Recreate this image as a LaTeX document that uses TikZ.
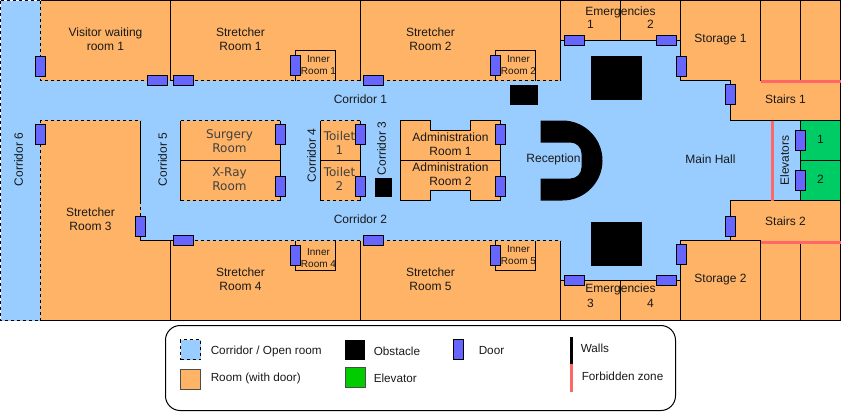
\documentclass[tikz,border=0pt]{standalone}
\usepackage{fontspec}
\setmainfont{Liberation Sans}
\newfontfamily\dvfont{DejaVu Sans}
\definecolor{corr}{HTML}{99CCFF}
\definecolor{roomc}{HTML}{FFB366}
\definecolor{doorc}{HTML}{6666FF}
\definecolor{elevc}{HTML}{00CC66}
\definecolor{legelev}{HTML}{00CC00}
\definecolor{forb}{HTML}{FF6666}
\tikzset{
  lbl/.style={inner sep=0pt,align=center,text=black!90,font=\fontsize{9}{10.5}\selectfont},
  dvlbl/.style={inner sep=0pt,align=center,text=black!75,font=\dvfont\fontsize{9}{10.5}\selectfont},
  small/.style={inner sep=0pt,align=center,text=black!90,font=\fontsize{7.5}{9}\selectfont},
  leglbl/.style={inner sep=0pt,anchor=west,text=black!90,font=\fontsize{8.8}{10}\selectfont},
  wall/.style={line width=.75pt,draw=black},
  open/.style={line width=.75pt,draw=black,dash pattern=on 2.25pt off 2.25pt},
  forbid/.style={line width=2.25pt,draw=forb},
  roomf/.style={fill=roomc},
  vdoor/.style={draw=black,line width=.75pt,fill=doorc,inner sep=0pt,outer sep=0pt,minimum width=7.5pt,minimum height=15pt,anchor=north},
  hdoor/.style={draw=black,line width=.75pt,fill=doorc,inner sep=0pt,outer sep=0pt,minimum width=15pt,minimum height=7.5pt,anchor=west},
  swatch/.style={inner sep=0pt,outer sep=0pt,minimum width=15pt,minimum height=15pt,anchor=north west},
}
\begin{document}
\begin{tikzpicture}[x=.75pt,y=-.75pt]
\useasboundingbox (-.5,-.5) rectangle (850.5,414.5);
% open space
\fill[corr] (0,0) rectangle (800,320);
% rooms
\fill[roomf] (40,0) rectangle (560,80);
\fill[roomf] (560,0) rectangle (680,40);
\fill[roomf] (680,0) rectangle (840,80);
\fill[roomf] (730,80) rectangle (840,120);
\fill[elevc] (800,120) rectangle (840,200);
\fill[roomf] (730,200) rectangle (840,240);
\fill[roomf] (680,240) rectangle (840,320);
\fill[roomf] (560,280) rectangle (680,320);
\fill[roomf] (170,240) rectangle (560,320);
\fill[roomf] (40,120) -- (140,120) -- (140,240) -- (170,240) -- (170,320) -- (40,320) -- cycle;
\fill[roomf] (180,120) rectangle (280,200);
\fill[roomf] (320,120) rectangle (360,200);
\fill[roomf] (400,120) -- (430,120) -- (430,130) -- (470,130) -- (470,120) -- (500,120) -- (500,200) -- (470,200) -- (470,190) -- (430,190) -- (430,200) -- (400,200) -- cycle;
% open (dashed) borders
\draw[open] (0,0) -- (40,0);
\draw[open] (0,0) -- (0,320) -- (40,320);
\draw[open] (40,0) -- (40,80) -- (560,80);
\draw[open] (40,320) -- (40,120) -- (140,120);
\draw[open] (140,200) -- (140,240);
\draw[open] (170,240) -- (560,240);
\draw[open] (180,120) -- (280,120);
\draw[open] (180,200) -- (280,200);
\draw[open] (320,120) -- (360,120);
\draw[open] (320,200) -- (360,200);
% walls
\draw[wall] (40,0) -- (840,0) -- (840,320) -- (40,320);
\draw[wall] (170,0) -- (170,80);
\draw[wall] (360,0) -- (360,80);
\draw[wall] (560,0) -- (560,80);
\draw[wall] (620,0) -- (620,40);
\draw[wall] (560,40) -- (680,40);
\draw[wall] (680,0) -- (680,80) -- (730,80) -- (730,120) -- (840,120);
\draw[wall] (760,0) -- (760,80);
\draw[wall] (800,0) -- (800,80);
\draw[wall] (295,80) -- (295,50) -- (335,50) -- (335,80);
\draw[wall] (495,80) -- (495,50) -- (535,50) -- (535,80);
\draw[wall] (140,120) -- (140,200);
\draw[wall] (140,236) -- (140,240) -- (170,240) -- (170,320);
\draw[wall] (360,240) -- (360,320);
\draw[wall] (560,240) -- (560,320);
\draw[wall] (295,240) -- (295,270) -- (335,270) -- (335,240);
\draw[wall] (495,240) -- (495,270) -- (535,270) -- (535,240);
\draw[wall] (180,120) -- (180,200);
\draw[wall] (280,120) -- (280,200);
\draw[wall] (180,160) -- (280,160);
\draw[wall] (320,120) -- (320,200);
\draw[wall] (360,120) -- (360,200);
\draw[wall] (320,160) -- (360,160);
\draw[wall] (400,120) -- (430,120) -- (430,130) -- (470,130) -- (470,120) -- (500,120) -- (500,200) -- (470,200) -- (470,190) -- (430,190) -- (430,200) -- (400,200) -- cycle;
\draw[wall] (400,160) -- (500,160);
\draw[wall] (560,280) -- (680,280);
\draw[wall] (620,280) -- (620,320);
\draw[wall] (680,320) -- (680,240) -- (730,240) -- (730,200) -- (840,200);
\draw[wall] (730,240) -- (760,240);
\draw[wall] (760,240) -- (760,320);
\draw[wall] (800,240) -- (800,320);
\draw[wall] (800,120) -- (800,200);
\draw[wall] (800,160) -- (840,160);
% forbidden zones
\draw[forbid] (760,80.5) -- (840,80.5);
\draw[forbid] (760,241.5) -- (840,241.5);
\draw[forbid] (772,120) -- (772,200);
% obstacles
\fill[black] (509,84) rectangle (537,104);
\fill[black] (374,177) rectangle (391,196);
\fill[black] (590,55) rectangle (641,99);
\fill[black] (590,221) rectangle (641,265);
\fill[black] (540,120) -- (562,120) .. controls (584,120) and (602,138) .. (602,160) .. controls (602,182) and (584,200) .. (562,200) -- (540,200) -- (540,178) -- (570,178) .. controls (576,178) and (581,173) .. (581,167) -- (581,153) .. controls (581,147) and (576,142) .. (570,142) -- (540,142) -- cycle;
% doors
\node[vdoor] (dv1) at (40,56) {};
\node[vdoor] (dv2) at (40,124) {};
\node[vdoor] (dv3) at (280,124) {};
\node[vdoor] (dv4) at (280,176) {};
\node[vdoor] (dv5) at (140,216) {};
\node[vdoor] (dv6) at (295,55) {};
\node[vdoor] (dv7) at (495,55) {};
\node[vdoor] (dv8) at (360,124) {};
\node[vdoor] (dv9) at (360,176) {};
\node[vdoor] (dv10) at (500,124) {};
\node[vdoor] (dv11) at (500,176) {};
\node[vdoor] (dv12) at (681,56) {};
\node[vdoor] (dv13) at (730,84) {};
\node[vdoor] (dv14) at (681,244) {};
\node[vdoor] (dv15) at (730,216) {};
\node[vdoor] (dv16) at (800,130) {};
\node[vdoor] (dv17) at (800,170) {};
\node[vdoor] (dv18) at (295,245) {};
\node[vdoor] (dv19) at (495,245) {};
\node[hdoor] (dh1) at (147,80) {};
\node[hdoor] (dh2) at (173,80) {};
\node[hdoor] (dh3) at (363,80) {};
\node[hdoor] (dh4) at (564,40) {};
\node[hdoor] (dh5) at (656,40) {};
\node[hdoor] (dh6) at (564,280) {};
\node[hdoor] (dh7) at (656,280) {};
\node[hdoor] (dh8) at (173,240) {};
\node[hdoor] (dh9) at (363,240) {};
% labels
\node[lbl] (t1) at (105,39) {Visitor waiting\\room 1};
\node[lbl] (t2) at (240,39) {Stretcher\\Room 1};
\node[lbl] (t3) at (430,39) {Stretcher\\Room 2};
\node[lbl] (t4) at (90,219) {Stretcher\\Room 3};
\node[lbl] (t5) at (240,279) {Stretcher\\Room 4};
\node[lbl] (t6) at (430,279) {Stretcher\\Room 5};
\node[small] (t7) at (318,65) {Inner\\Room 1};
\node[small] (t8) at (518,65) {Inner\\Room 2};
\node[small] (t9) at (318,258) {Inner\\Room 4};
\node[small] (t10) at (518,255) {Inner\\Room 5};
\node[dvlbl] (t11) at (229,141) {Surgery\\Room};
\node[dvlbl] (t12) at (229,179) {X-Ray\\Room};
\node[dvlbl] (t13) at (339,142) {Toilet\\1};
\node[dvlbl] (t14) at (339,178) {Toilet\\2};
\node[lbl] (t15) at (450,144) {Administration\\Room 1};
\node[lbl] (t16) at (450,174) {Administration\\Room 2};
\node[lbl] (t17) at (360,99) {Corridor 1};
\node[lbl] (t18) at (360,219) {Corridor 2};
\node[lbl,rotate=90] (t19) at (381,148) {Corridor 3};
\node[lbl,rotate=90] (t20) at (311,155) {Corridor 4};
\node[lbl,rotate=90] (t21) at (162,159) {Corridor 5};
\node[lbl,rotate=90] (t22) at (18,159) {Corridor 6};
\node[lbl] (t23) at (553,159) {Reception};
\node[lbl] (t24) at (710,159) {Main Hall};
\node[lbl,rotate=90] (t25) at (784,160) {Elevators};
\node[lbl] (t26) at (820,139) {1};
\node[lbl] (t27) at (820,179) {2};
\node[lbl] (t28) at (785,99) {Stairs 1};
\node[lbl] (t29) at (785,221) {Stairs 2};
\node[lbl] (t30) at (720,39) {Storage 1};
\node[lbl] (t31) at (720,279) {Storage 2};
\node[lbl] (t32) at (620,12) {Emergencies};
\node[lbl] (t33) at (590,24) {1};
\node[lbl] (t34) at (650,24) {2};
\node[lbl] (t35) at (620,289) {Emergencies};
\node[lbl] (t36) at (590,303) {3};
\node[lbl] (t37) at (650,303) {4};
% legend
\draw[wall,rounded corners=11pt] (165,325) rectangle (675,410);
\node[swatch,fill=corr,draw=black,line width=.75pt,dash pattern=on 2.25pt off 2.25pt] (s1) at (180,339) {};
\node[swatch,fill=roomc,draw=black!70,line width=.75pt] (s2) at (180,369) {};
\node[swatch,fill=black,minimum width=15.5pt] (s3) at (344,339) {};
\node[swatch,fill=legelev,draw=black!70,line width=.75pt] (s4) at (345,367) {};
\node[vdoor,anchor=north] (s5) at (457.5,339) {};
\coordinate (w1) at (571,336);
\coordinate (w2) at (571,363);
\coordinate (w3) at (571,391);
\draw[line width=1.9pt,draw=black] (w1) -- (w2);
\draw[line width=1.9pt,draw=forb] (w2) -- (w3);
\node[leglbl] (l1) at (210,351) {Corridor / Open room};
\node[leglbl] (l2) at (210,378) {Room (with door)};
\node[leglbl] (l3) at (373,351) {Obstacle};
\node[leglbl] (l4) at (373,378) {Elevator};
\node[leglbl] (l5) at (478,350) {Door};
\node[leglbl] (l6) at (580,348) {Walls};
\node[leglbl] (l7) at (581,376) {Forbidden zone};
\end{tikzpicture}
\end{document}
